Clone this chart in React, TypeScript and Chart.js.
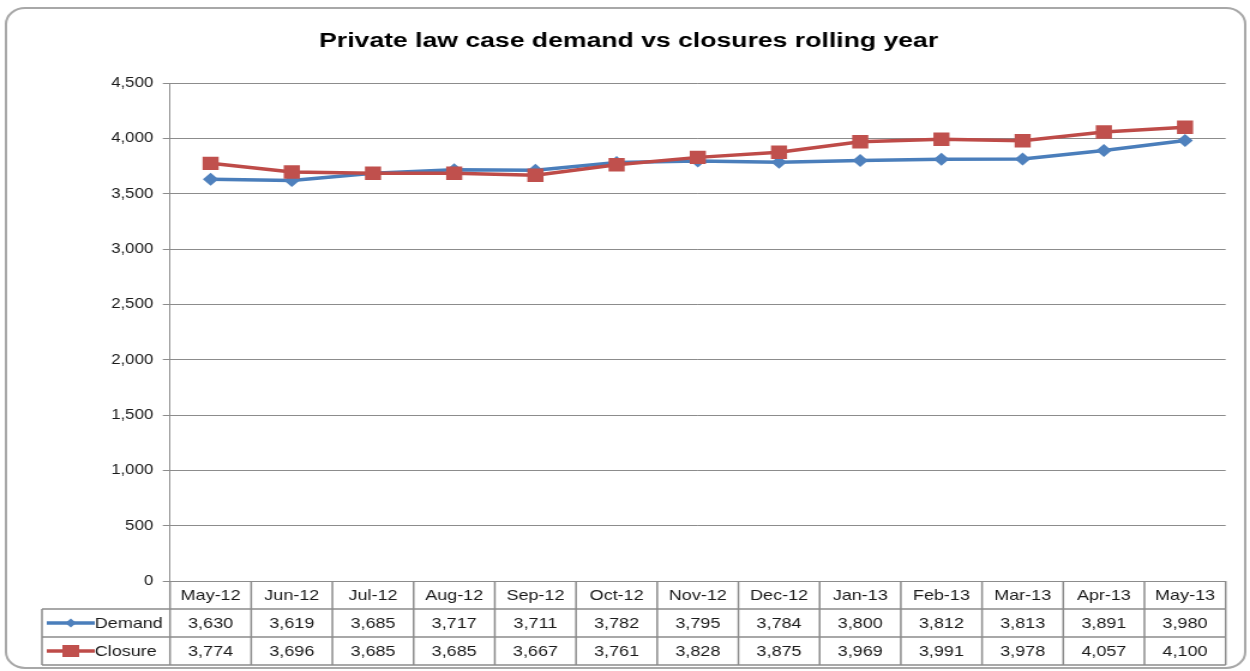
import React, { useEffect, useRef } from "react";
import { Chart, registerables } from "chart.js";

Chart.register(...registerables);

const titleText = "Private law case demand vs closures rolling year";
const months = ["May-12", "Jun-12", "Jul-12", "Aug-12", "Sep-12", "Oct-12", "Nov-12", "Dec-12", "Jan-13", "Feb-13", "Mar-13", "Apr-13", "May-13"];
const demand = [3630, 3619, 3685, 3717, 3711, 3782, 3795, 3784, 3800, 3812, 3813, 3891, 3980];
const closure = [3774, 3696, 3685, 3685, 3667, 3761, 3828, 3875, 3969, 3991, 3978, 4057, 4100];
const yTicks = [0, 500, 1000, 1500, 2000, 2500, 3000, 3500, 4000, 4500];

const LOGICAL_W = 1042;
const H = 671;
const FONT = "'Liberation Sans', Arial, sans-serif";
const TEXT = "#1a1a1a";
const GRID = "#8c8c8c";
const BLUE_LINE = "#4A7EBB";
const BLUE_MARK = "#4F81BD";
const RED_LINE = "#BE4B48";
const RED_MARK = "#C0504D";

const fmt = (v: number) => v.toLocaleString("en-US");

function drawDiamond(ctx: CanvasRenderingContext2D, x: number, y: number, r: number) {
  ctx.beginPath();
  ctx.moveTo(x, y - r);
  ctx.lineTo(x + r, y);
  ctx.lineTo(x, y + r);
  ctx.lineTo(x - r, y);
  ctx.closePath();
  ctx.fill();
}

const framePlugin = {
  id: "frame",
  beforeDraw(chart: any) {
    const ctx = chart.ctx as CanvasRenderingContext2D;
    ctx.save();
    ctx.fillStyle = "#ffffff";
    ctx.fillRect(0, 0, chart.width, chart.height);
    ctx.strokeStyle = "#a8a8a8";
    ctx.lineWidth = 2;
    ctx.beginPath();
    (ctx as any).roundRect(5, 8, 1033, 660, 16);
    ctx.stroke();
    // title
    ctx.fillStyle = "#000";
    ctx.font = `bold 20px ${FONT}`;
    ctx.textAlign = "center";
    ctx.textBaseline = "middle";
    const w = ctx.measureText(titleText).width;
    const sx = 516 / w;
    ctx.translate(524, 41);
    ctx.scale(sx, 1);
    ctx.fillText(titleText, 0, 0);
    ctx.restore();
  },
  afterDraw(chart: any) {
    const ctx = chart.ctx as CanvasRenderingContext2D;
    const ca = chart.chartArea;
    const xs = chart.scales.x;
    const n = months.length;
    const cw = (ca.right - ca.left) / n;
    const tableLeft = 35;
    const rowH = 28;
    const r0 = ca.bottom;
    const r1 = r0 + rowH;
    const r2 = r1 + rowH;
    const r3 = r2 + rowH;
    ctx.save();
    ctx.strokeStyle = GRID;
    ctx.lineWidth = 1.5;
    ctx.beginPath();
    for (let i = 0; i <= n; i++) {
      const x = ca.left + i * cw;
      ctx.moveTo(x, r0);
      ctx.lineTo(x, r3);
    }
    ctx.moveTo(tableLeft, r1);
    ctx.lineTo(tableLeft, r3);
    [r1, r2, r3].forEach((y) => {
      ctx.moveTo(tableLeft, y);
      ctx.lineTo(ca.right, y);
    });
    ctx.stroke();

    ctx.fillStyle = TEXT;
    ctx.font = `15px ${FONT}`;
    ctx.textAlign = "center";
    ctx.textBaseline = "middle";
    for (let i = 0; i < n; i++) {
      const x = xs.getPixelForValue(i);
      ctx.fillText(months[i], x, (r0 + r1) / 2 + 1);
      ctx.fillText(fmt(demand[i]), x, (r1 + r2) / 2 + 1);
      ctx.fillText(fmt(closure[i]), x, (r2 + r3) / 2 + 1);
    }

    // legend keys
    const ly1 = (r1 + r2) / 2;
    const ly2 = (r2 + r3) / 2;
    ctx.lineWidth = 3.5;
    ctx.strokeStyle = BLUE_LINE;
    ctx.beginPath();
    ctx.moveTo(39, ly1);
    ctx.lineTo(79, ly1);
    ctx.stroke();
    ctx.fillStyle = BLUE_MARK;
    drawDiamond(ctx, 59, ly1, 4.5);
    ctx.strokeStyle = RED_LINE;
    ctx.beginPath();
    ctx.moveTo(39, ly2);
    ctx.lineTo(79, ly2);
    ctx.stroke();
    ctx.fillStyle = RED_MARK;
    ctx.fillRect(59 - 7, ly2 - 6, 14, 12);

    ctx.fillStyle = TEXT;
    ctx.textAlign = "left";
    ctx.fillText("Demand", 79, ly1 + 1);
    ctx.fillText("Closure", 79, ly2 + 1);
    ctx.restore();
  },
};

export default function App() {
  const ref = useRef<HTMLCanvasElement>(null);
  useEffect(() => {
    if (!ref.current) return;
    const chart = new Chart(ref.current, {
      type: "line",
      data: {
        labels: months,
        datasets: [
          {
            label: "Demand",
            data: demand,
            borderColor: BLUE_LINE,
            backgroundColor: BLUE_MARK,
            borderWidth: 3.5,
            pointStyle: "rectRot",
            pointRadius: 6.5,
            pointBorderWidth: 0,
            pointBackgroundColor: BLUE_MARK,
            order: 1,
          },
          {
            label: "Closure",
            data: closure,
            borderColor: RED_LINE,
            backgroundColor: RED_MARK,
            borderWidth: 3.5,
            pointStyle: "rect",
            pointRadius: 9.5,
            pointBorderWidth: 0,
            pointBackgroundColor: RED_MARK,
            order: 0,
          },
        ],
      },
      options: {
        responsive: false,
        animation: false,
        devicePixelRatio: 1,
        events: [],
        layout: { padding: { left: 0, right: 20.3, top: 83, bottom: 0 } },
        plugins: {
          legend: { display: false },
          title: { display: false },
          tooltip: { enabled: false },
        },
        scales: {
          x: {
            type: "category",
            offset: true,
            grid: { display: false },
            border: { display: true, color: GRID, width: 1 },
            ticks: { display: false },
            afterFit: (s: any) => {
              s.height = 90;
            },
          },
          y: {
            min: 0,
            max: 4500,
            afterBuildTicks: (s: any) => {
              s.ticks = yTicks.map((v) => ({ value: v }));
            },
            grid: { color: GRID, lineWidth: 1, drawTicks: true, tickLength: 6 },
            border: { display: true, color: GRID, width: 1 },
            ticks: {
              padding: 8,
              color: TEXT,
              font: { family: FONT, size: 14 },
              callback: (v: any) => fmt(Number(v)),
            },
            afterFit: (s: any) => {
              s.width = 141.7;
            },
          },
        },
      },
      plugins: [framePlugin],
    });
    return () => chart.destroy();
  }, []);
  return (
    <div style={{ position: "fixed", left: 0, top: 0, width: 1250, height: H, background: "#fff" }}>
      <canvas ref={ref} width={LOGICAL_W} height={H} style={{ width: "1250px", height: H + "px", display: "block" }} />
    </div>
  );
}
